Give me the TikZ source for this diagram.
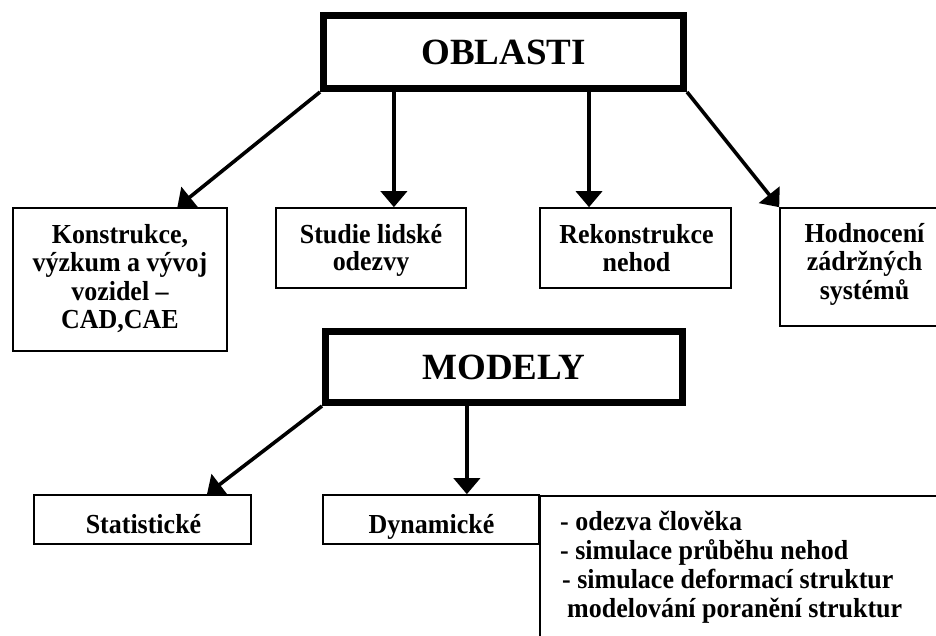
\documentclass[tikz,border=0pt]{standalone}
\usepackage{fontspec}
\setmainfont{Liberation Serif}
\newfontfamily\boxfont[FakeStretch=0.945]{Liberation Serif}
\usetikzlibrary{arrows.meta,calc}
\begin{document}
\begin{tikzpicture}[x=1pt,y=-1pt,
  box/.style={draw, line width=1.6pt, inner sep=0pt},
  bigbox/.style={draw, line width=7pt, inner sep=0pt,
    font=\bfseries\fontsize{37}{40}\selectfont},
  arr/.style={line width=3.6pt, -{Triangle[width=26pt,length=16pt]}},
  txt/.style={anchor=base, inner sep=0pt,
    font=\boxfont\bfseries\fontsize{27.5}{30}\selectfont},
  listtext/.style={anchor=base west, inner sep=0pt,
    font=\boxfont\bfseries\fontsize{27.5}{30}\selectfont}]
\path[use as bounding box] (0,0) rectangle (936,635);
\clip (0,0) rectangle (936,635);

% top level
\node[bigbox, minimum width=360pt, minimum height=73pt] (oblasti) at (503.5,52) {OBLASTI};

\node[box, minimum width=214pt, minimum height=143pt] (konstr) at (120,279.5) {};
\node[txt] (k1) at (120,243) {Konstrukce,};
\node[txt] (k2) at (120,271.5) {výzkum a vývoj};
\node[txt] (k3) at (120,300) {vozidel –};
\node[txt] (k4) at (120,328) {CAD,CAE};

\node[box, minimum width=190pt, minimum height=80pt] (studie) at (371,248) {};
\node[txt] (s1) at (371,243) {Studie lidské};
\node[txt] (s2) at (371,270.5) {odezvy};

\node[box, minimum width=191pt, minimum height=80pt] (rekon) at (635.5,248) {};
\node[txt] (r1) at (636.5,243) {Rekonstrukce};
\node[txt] (r2) at (636.5,271) {nehod};

\node[box, minimum width=170pt, minimum height=118pt] (hodn) at (865,267) {};
\node[txt] (h1) at (864.5,242) {Hodnocení};
\node[txt] (h2) at (864.5,270.5) {zádržných};
\node[txt] (h3) at (864.5,299) {systémů};

% models
\node[bigbox, minimum width=357pt, minimum height=71pt] (modely) at (504,367) {MODELY};

\node[box, minimum width=217pt, minimum height=49pt] (stat) at (142.5,519.5) {};
\node[txt] (st) at (143.5,533) {Statistické};
\node[box, minimum width=216pt, minimum height=49pt] (dyn) at (431,519.5) {};
\node[txt] (dy) at (431.5,533) {Dynamické};
\node[box, minimum width=441pt, minimum height=185pt, anchor=north west] (list) at (539,495) {};

\node[listtext] (l1) at (560,530) {- odezva člověka};
\node[listtext] (l2) at (560,559) {- simulace průběhu nehod};
\node[listtext] (l3) at (562,588) {- simulace deformací struktur};
\node[listtext] (l4) at (567,617) {modelování poranění struktur};

% connectors from OBLASTI
\draw[arr] (oblasti.south west) -- ($(konstr.north west)!0.766!(konstr.north east)$);
\coordinate (o2) at ($(oblasti.south west)!0.2014!(oblasti.south east)$);
\draw[arr] (o2) -- (o2 |- studie.north);
\coordinate (o3) at ($(oblasti.south west)!0.733!(oblasti.south east)$);
\draw[arr] (o3) -- (o3 |- rekon.north);
\draw[arr] (oblasti.south east) -- (hodn.north west);

% connectors from MODELY
\draw[arr] (modely.south west) -- ($(stat.north west)!0.795!(stat.north east)$);
\coordinate (m2) at ($(modely.south west)!0.398!(modely.south east)$);
\draw[arr] (m2) -- (m2 |- dyn.north);
\end{tikzpicture}
\end{document}
